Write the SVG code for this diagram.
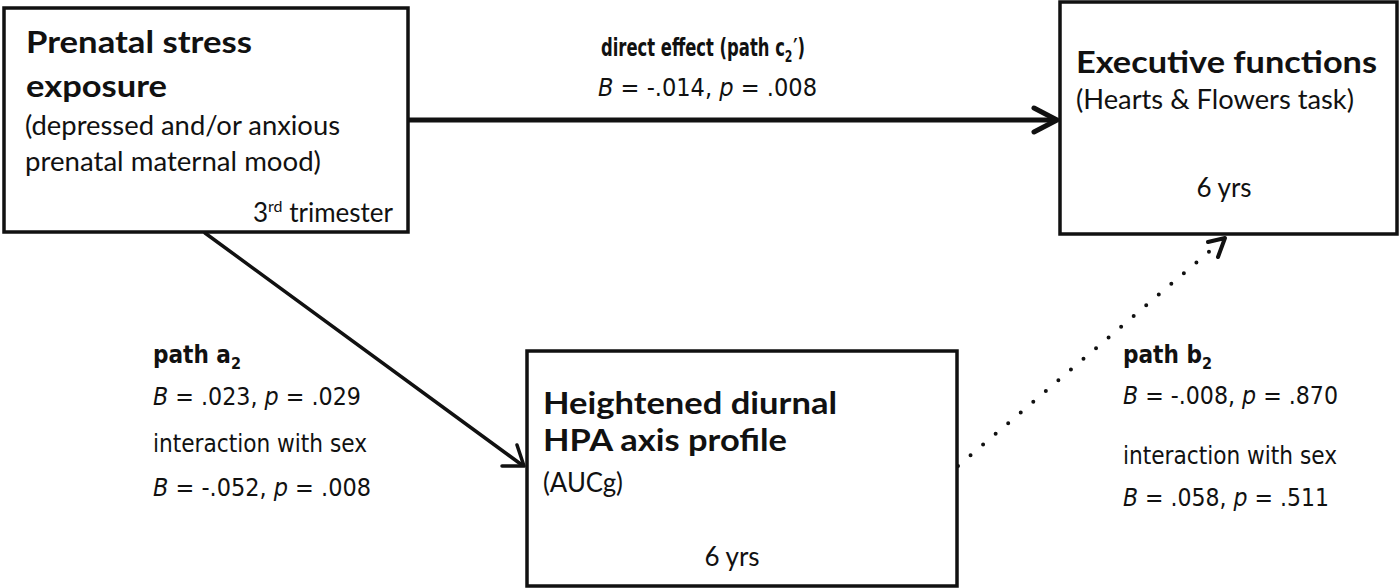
<svg xmlns="http://www.w3.org/2000/svg" width="1400" height="588" viewBox="0 0 1400 588">
<style>
.box{fill:#fff;stroke:#111;stroke-width:3.5}
.tb{font-family:Lato,"Liberation Sans",sans-serif;font-weight:bold;font-size:31px;fill:#111}
.tr{font-family:Lato,"Liberation Sans",sans-serif;font-size:26px;fill:#111}
.lb{font-family:"DejaVu Sans Condensed","DejaVu Sans",sans-serif;font-weight:bold;font-size:24px;fill:#111}
.lr{font-family:"DejaVu Sans Condensed","DejaVu Sans",sans-serif;font-size:24px;fill:#111}
.sub{font-size:16px}
.c{fill:none;stroke:#111;stroke-linecap:round;stroke-linejoin:round}
</style>
<g id="connectors">
  <line class="c" x1="408" y1="120" x2="1055" y2="120" stroke-width="5"/>
  <polyline class="c" points="1034,108 1057,120 1034,132" stroke-width="5"/>
  <line class="c" x1="205" y1="233" x2="522" y2="465" stroke-width="3.5"/>
  <polyline class="c" points="517,445 524,466 502,466" stroke-width="3.5"/>
  <line class="c" x1="958" y1="466" x2="1218" y2="244" stroke-width="4" stroke-dasharray="0 16.5"/>
  <polyline class="c" points="1208,242 1225,238 1218,257" stroke-width="4"/>
</g>
<g id="node-prenatal">
  <rect class="box" x="4" y="8" width="404" height="224"/>
  <text class="tb" x="26" y="53" textLength="226" lengthAdjust="spacingAndGlyphs">Prenatal stress</text>
  <text class="tb" x="26" y="97" textLength="141" lengthAdjust="spacingAndGlyphs">exposure</text>
  <text class="tr" x="25" y="135" textLength="315" lengthAdjust="spacingAndGlyphs">(depressed and/or anxious</text>
  <text class="tr" x="25" y="171" textLength="296" lengthAdjust="spacingAndGlyphs">prenatal maternal mood)</text>
  <text class="tr" x="393" y="222" text-anchor="end">3<tspan class="sub" dy="-10">rd</tspan><tspan dy="10"> trimester</tspan></text>
</g>
<g id="node-executive">
  <rect class="box" x="1060" y="2" width="337" height="232"/>
  <text class="tb" x="1076" y="73" textLength="301" lengthAdjust="spacingAndGlyphs">Executive functions</text>
  <text class="tr" x="1076" y="109" textLength="278" lengthAdjust="spacingAndGlyphs">(Hearts &amp; Flowers task)</text>
  <text class="tr" x="1224" y="197" text-anchor="middle">6 yrs</text>
</g>
<g id="node-hpa">
  <rect class="box" x="527" y="351" width="430" height="235"/>
  <text class="tb" x="543" y="414" textLength="294" lengthAdjust="spacingAndGlyphs">Heightened diurnal</text>
  <text class="tb" x="543" y="451" textLength="244" lengthAdjust="spacingAndGlyphs">HPA axis profile</text>
  <text class="tr" x="543" y="492" textLength="80" lengthAdjust="spacingAndGlyphs">(AUCg)</text>
  <text class="tr" x="732" y="566" text-anchor="middle">6 yrs</text>
</g>
<g id="labels">
  <text class="lb" transform="translate(601,56) scale(0.76,1)">direct effect (path c<tspan class="sub" dy="6">2</tspan><tspan dx="1" dy="-6">′)</tspan></text>
  <text class="lr" x="598" y="96" textLength="219" lengthAdjust="spacingAndGlyphs"><tspan font-style="italic">B</tspan> = -.014, <tspan font-style="italic">p</tspan> = .008</text>
  <text class="lb" x="153" y="363" textLength="88" lengthAdjust="spacingAndGlyphs">path a<tspan class="sub" dy="6">2</tspan></text>
  <text class="lr" x="153" y="405" textLength="208" lengthAdjust="spacingAndGlyphs"><tspan font-style="italic">B</tspan> = .023, <tspan font-style="italic">p</tspan> = .029</text>
  <text class="lr" x="153" y="452" textLength="214" lengthAdjust="spacingAndGlyphs">interaction with sex</text>
  <text class="lr" x="153" y="496" textLength="218" lengthAdjust="spacingAndGlyphs"><tspan font-style="italic">B</tspan> = -.052, <tspan font-style="italic">p</tspan> = .008</text>
  <text class="lb" x="1123" y="363" textLength="89" lengthAdjust="spacingAndGlyphs">path b<tspan class="sub" dy="6">2</tspan></text>
  <text class="lr" x="1123" y="404" textLength="215" lengthAdjust="spacingAndGlyphs"><tspan font-style="italic">B</tspan> = -.008, <tspan font-style="italic">p</tspan> = .870</text>
  <text class="lr" x="1123" y="464" textLength="214" lengthAdjust="spacingAndGlyphs">interaction with sex</text>
  <text class="lr" x="1123" y="506" textLength="206" lengthAdjust="spacingAndGlyphs"><tspan font-style="italic">B</tspan> = .058, <tspan font-style="italic">p</tspan> = .511</text>
</g>
</svg>
